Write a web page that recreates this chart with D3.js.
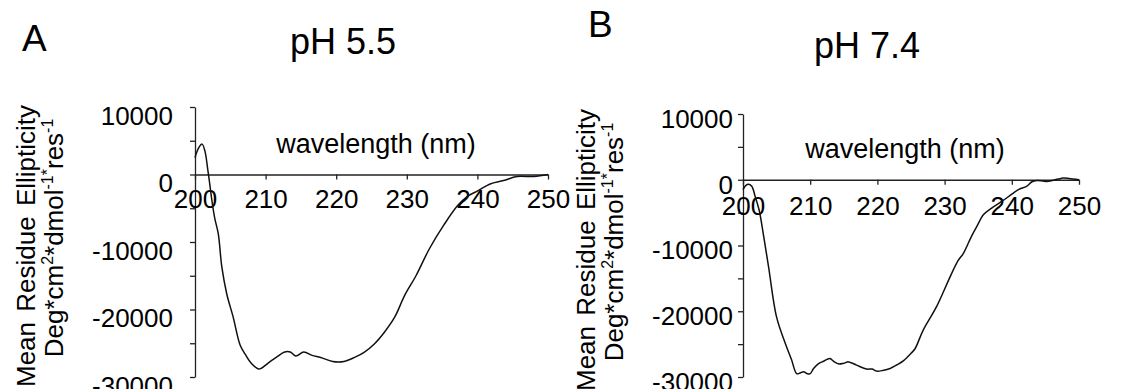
<!DOCTYPE html>
<html><head><meta charset="utf-8">
<script src="https://cdn.jsdelivr.net/npm/d3@7"></script>
<style>
html,body{margin:0;padding:0;background:#fff;}
svg{display:block;font-family:"Liberation Sans",Arial,sans-serif;}
</style></head>
<body>
<svg id="chart" width="1122" height="389"></svg>
<script>
// ---- data ----
const panelLetters = ["A", "B"];
const panelTitles = ["pH 5.5", "pH 7.4"];
const xTicks = [200, 210, 220, 230, 240, 250];
const yTicks = [10000, 5000, 0, -5000, -10000, -15000, -20000, -25000, -30000];
const yLabelTicks = [10000, 0, -10000, -20000, -30000];
const xTitle = "wavelength (nm)";
const yTitleLine1 = "Mean Residue Ellipticity";

const wavelengthA = [200.0,200.5,201.0,201.4,201.8,202.1,202.4,202.8,203.3,203.8,204.5,205.4,206.4,207.1,208.0,209.0,209.4,210.4,211.5,212.7,213.5,214.3,215.4,216.6,217.8,219.5,221.1,222.6,224.0,225.4,226.8,228.3,229.7,231.3,233.2,235.3,237.2,238.5,240.1,241.8,243.7,245.6,248.0,250.0];
const ellipticityA = [2500,3900,4500,3500,800,-1500,-3900,-6500,-8800,-13700,-17700,-21100,-25300,-26600,-28000,-28800,-28700,-27900,-27100,-26300,-26300,-26900,-26300,-26800,-27100,-27700,-27700,-27100,-26300,-25100,-23400,-21100,-17900,-15000,-11000,-7400,-4600,-3300,-2400,-1400,-900,-300,-300,0];

const wavelengthB = [200.0,200.4,200.8,201.3,201.8,202.4,203.0,203.8,205.0,206.3,207.2,208.0,208.5,209.0,209.6,210.0,210.5,211.2,212.0,212.9,213.6,214.2,215.0,215.7,216.9,218.4,219.2,219.9,220.8,221.9,223.0,223.9,225.0,225.6,226.8,228.8,230.8,232.0,232.8,234.0,234.8,235.8,237.0,238.5,240.0,241.0,242.2,243.0,243.7,245.2,246.9,247.6,248.5,250.0];
const ellipticityB = [-1500,-900,-700,-1000,-2500,-4600,-8100,-13200,-20900,-24900,-27300,-29500,-29400,-29200,-29500,-29500,-28700,-28000,-27600,-27200,-27700,-28000,-27900,-27700,-28200,-28800,-28800,-29100,-29000,-28700,-28100,-27500,-26400,-25700,-22900,-19300,-14800,-12300,-11200,-8600,-7100,-5300,-4300,-3300,-2200,-1500,-1000,-300,-100,-250,100,250,200,0];

// ---- layout ----
const panels = [
  {letter: panelLetters[0], title: panelTitles[0], wl: wavelengthA, el: ellipticityA,
   x0: 195, x1: 548, yTop: 107, yBot: 377, yLabDy: 9, yLabPad: 17, xLabBase: 33,
   letterX: 22, letterY: 51, titleX: 343, titleY: 54,
   wlX: 376, wlY: 153, t1X: 35, t1Y: 246, t2X: 63, t2Y: 238},
  {letter: panelLetters[1], title: panelTitles[1], wl: wavelengthB, el: ellipticityB,
   x0: 743, x1: 1079, yTop: 114, yBot: 377, yLabDy: 5, yLabPad: 5, xLabBase: 35,
   letterX: 588, letterY: 37, titleX: 867, titleY: 58,
   wlX: 905, wlY: 158, t1X: 595, t1Y: 250, t2X: 623, t2Y: 242}
];

const svg = d3.select("#chart");
const fmt = d => (yLabelTicks.includes(d) ? String(d) : "");

panels.forEach(p => {
  const x = d3.scaleLinear().domain([200, 250]).range([p.x0, p.x1]);
  const y = d3.scaleLinear().domain([10000, -30000]).range([p.yTop, p.yBot]);
  const g = svg.append("g");

  // y axis
  const ya = g.append("g").attr("transform", `translate(${p.x0},0)`)
    .call(d3.axisLeft(y).tickValues(yTicks).tickFormat(fmt).tickSize(5).tickSizeOuter(0).tickPadding(p.yLabPad));
  ya.select(".domain").attr("stroke", "#222").attr("stroke-width", 1.3);
  ya.selectAll(".tick line").attr("stroke", "#222").attr("stroke-width", 1.3);
  ya.selectAll("text").attr("font-size", 26).attr("fill", "#000")
    .attr("font-family", "Liberation Sans, Arial, sans-serif")
    .attr("y", p.yLabDy);

  // x axis at zero
  const xa = g.append("g").attr("transform", `translate(0,${y(0)})`)
    .call(d3.axisBottom(x).tickValues(xTicks).tickSize(5).tickSizeOuter(0).tickPadding(p.xLabBase - 5 - 18));
  xa.select(".domain").attr("stroke", "#222").attr("stroke-width", 1.3);
  xa.selectAll(".tick line").attr("stroke", "#222").attr("stroke-width", 1.3);
  xa.selectAll("text").attr("font-size", 26).attr("fill", "#000")
    .attr("font-family", "Liberation Sans, Arial, sans-serif");

  // curve
  const pts = p.wl.map((w, i) => [w, p.el[i]]);
  g.append("path").datum(pts)
    .attr("fill", "none").attr("stroke", "#111").attr("stroke-width", 1.5)
    .attr("d", d3.line().x(d => x(d[0])).y(d => y(d[1])).curve(d3.curveCatmullRom.alpha(0.5)));

  // texts
  g.append("text").attr("x", p.letterX).attr("y", p.letterY)
    .attr("font-size", 37).text(p.letter);
  g.append("text").attr("x", p.titleX).attr("y", p.titleY).attr("text-anchor", "middle")
    .attr("font-size", 36).text(p.title);
  g.append("text").attr("x", p.wlX).attr("y", p.wlY).attr("text-anchor", "middle")
    .attr("font-size", 27).text(xTitle);

  g.append("text").attr("transform", `translate(${p.t1X},${p.t1Y}) rotate(-90)`)
    .attr("text-anchor", "middle").attr("font-size", 26).attr("word-spacing", 3)
    .text(yTitleLine1);
  const t2 = g.append("text").attr("transform", `translate(${p.t2X},${p.t2Y}) rotate(-90)`)
    .attr("text-anchor", "middle").attr("font-size", 26);
  const parts = [["Deg*cm", false], ["2", true], ["*dmol", false], ["-1*", true], ["res", false], ["-1", true]];
  let prevSup = false;
  parts.forEach(([s, sup]) => {
    const ts = t2.append("tspan").text(s);
    if (sup) { ts.attr("font-size", 16).attr("dy", prevSup ? 0 : -10); }
    else { ts.attr("dy", prevSup ? 10 : 0); }
    prevSup = sup;
  });
});
</script>
</body></html>
